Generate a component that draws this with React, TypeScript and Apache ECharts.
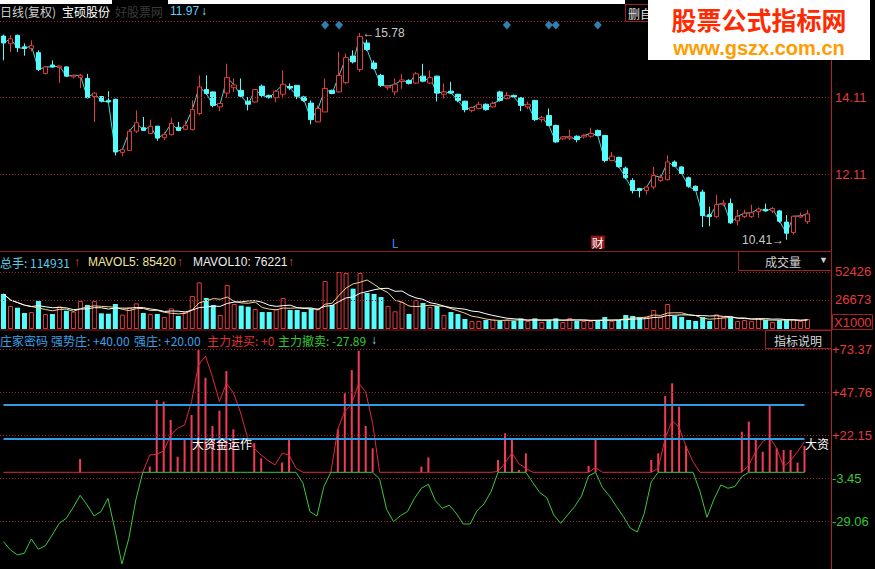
import React, { useEffect, useRef } from "react";
import * as echarts from "echarts";

// ---------- data ----------
const opens = [
  15.70, 15.50, 15.72, 15.42, 15.38, 15.27, 14.73, 14.95, 14.88, 14.90,
  14.64, 14.62, 14.60, 14.13, 14.13, 14.03, 14.06, 12.68, 12.73, 13.23,
  13.32, 13.17, 13.36, 13.06, 13.14, 13.33, 13.28, 13.27, 13.69, 14.31,
  14.25, 13.86, 14.22, 14.36, 14.29, 14.01, 13.99, 14.40, 14.16, 14.10,
  14.19, 14.39, 14.42, 14.12, 13.96, 13.47, 13.73, 14.29, 14.25, 14.49,
  15.18, 14.83, 15.52, 15.00, 14.68, 14.36, 14.25, 14.52, 14.55, 14.48,
  14.66, 14.48, 14.66, 14.19, 14.27, 14.19, 14.01, 13.77, 13.82, 13.93,
  13.86, 14.25, 14.08, 14.16, 14.10, 13.86, 14.03, 13.53, 13.64, 13.38,
  13.03, 13.05, 13.10, 13.08, 13.10, 13.25, 13.12, 12.47, 12.55, 12.27,
  11.95, 11.74, 11.69, 11.78, 11.95, 11.97, 12.43, 12.30, 12.02, 11.80,
  11.65, 11.06, 11.01, 11.32, 11.35, 10.90, 11.01, 11.01, 11.14, 11.20,
  11.16, 11.16, 10.87, 10.60, 11.00, 10.88,
];
const closes = [
  15.52, 15.63, 15.40, 15.38, 15.45, 14.83, 14.90, 14.90, 14.92, 14.66,
  14.68, 14.68, 14.10, 14.22, 14.01, 13.99, 12.69, 12.75, 13.23, 13.45,
  13.25, 13.36, 13.05, 13.15, 13.43, 13.25, 13.38, 13.79, 14.38, 14.21,
  13.90, 13.95, 14.62, 14.43, 14.14, 13.93, 14.31, 14.16, 14.10, 14.27,
  14.45, 14.35, 14.14, 14.03, 13.53, 13.82, 14.34, 14.21, 14.68, 15.14,
  15.03, 15.69, 15.35, 14.86, 14.42, 14.40, 14.45, 14.56, 14.47, 14.72,
  14.53, 14.62, 14.22, 14.25, 14.22, 14.03, 13.79, 13.84, 13.93, 13.79,
  13.95, 14.03, 14.16, 14.12, 13.90, 13.93, 13.53, 13.58, 13.38, 12.95,
  13.08, 13.08, 13.01, 13.12, 13.17, 13.12, 12.47, 12.58, 12.31, 12.02,
  11.69, 11.69, 11.78, 12.08, 12.03, 12.43, 12.32, 12.13, 11.80, 11.69,
  11.04, 11.01, 11.32, 11.36, 10.85, 11.02, 11.10, 11.11, 11.21, 11.16,
  11.22, 10.89, 10.58, 11.02, 11.03, 11.08,
];
const lows = [
  15.07, 15.29, 15.29, 15.19, 15.30, 14.79, 14.70, 14.88, 14.48, 14.64,
  14.60, 14.35, 14.08, 13.47, 13.98, 13.97, 12.60, 12.58, 12.72, 13.18,
  13.24, 13.17, 12.98, 13.00, 13.12, 13.23, 13.27, 13.25, 13.64, 14.18,
  13.85, 13.75, 14.10, 14.25, 14.10, 13.77, 13.96, 14.12, 14.08, 13.98,
  14.08, 14.30, 14.06, 13.99, 13.41, 13.47, 13.73, 14.19, 14.23, 14.45,
  14.99, 14.77, 15.32, 14.83, 14.38, 14.30, 14.16, 14.33, 14.44, 14.46,
  14.50, 14.46, 14.00, 14.08, 14.20, 13.98, 13.72, 13.72, 13.80, 13.76,
  13.84, 14.00, 14.05, 14.10, 13.75, 13.80, 13.49, 13.46, 13.36, 12.93,
  13.00, 13.00, 12.94, 13.04, 13.06, 13.10, 12.42, 12.45, 12.28, 11.98,
  11.61, 11.51, 11.58, 11.72, 11.92, 11.95, 12.30, 12.09, 11.76, 11.68,
  10.74, 10.76, 10.98, 11.28, 10.82, 10.78, 10.97, 10.98, 10.98, 11.14,
  11.10, 10.85, 10.41, 10.55, 10.98, 10.82,
];
const highs = [
  15.74, 15.72, 15.74, 15.51, 15.59, 15.33, 14.92, 15.07, 14.93, 14.91,
  14.70, 14.72, 14.72, 14.24, 14.14, 14.27, 14.07, 12.76, 13.28, 13.77,
  13.60, 13.53, 13.37, 13.20, 13.58, 13.47, 13.51, 14.03, 14.68, 14.68,
  14.26, 13.96, 14.98, 14.60, 14.60, 14.12, 14.33, 14.44, 14.18, 14.30,
  14.81, 14.47, 14.43, 14.15, 14.03, 13.90, 14.60, 14.31, 15.29, 15.25,
  15.33, 15.78, 15.61, 15.07, 14.72, 14.42, 14.60, 14.72, 14.58, 14.77,
  14.98, 14.81, 14.67, 14.47, 14.51, 14.20, 14.02, 13.87, 14.00, 13.95,
  14.00, 14.28, 14.25, 14.18, 14.12, 14.00, 14.04, 13.63, 13.82, 13.40,
  13.10, 13.27, 13.12, 13.15, 13.32, 13.27, 13.13, 12.69, 12.57, 12.31,
  12.01, 11.76, 11.81, 12.30, 12.10, 12.60, 12.47, 12.32, 12.05, 11.82,
  11.71, 11.27, 11.58, 11.45, 11.48, 11.19, 11.19, 11.32, 11.25, 11.35,
  11.26, 11.18, 11.05, 11.04, 11.12, 11.19,
];
const volumes = [
  32200, 21200, 19600, 14700, 15600, 25800, 13800, 13800, 20900, 16900,
  15900, 25800, 22100, 25800, 14400, 14100, 23000, 13200, 19900, 23600,
  14700, 13800, 13800, 11000, 19000, 12000, 15900, 30400, 42900, 28500,
  22100, 12900, 40500, 23000, 21500, 20500, 18400, 15600, 15600, 18100,
  28500, 17500, 17500, 15600, 18400, 18400, 44100, 22100, 52400, 51500,
  37100, 51500, 33100, 32200, 29400, 21200, 16300, 24800, 13800, 26700,
  23900, 20200, 21200, 12900, 15600, 13800, 9200, 7400, 7400, 8300,
  8700, 7400, 8700, 7400, 9800, 7400, 9800, 6400, 8000, 9800,
  6400, 10100, 7400, 7400, 7400, 7400, 11000, 7400, 8300, 12900,
  12000, 11000, 11000, 17500, 11000, 23000, 12000, 11000, 8300, 7400,
  11000, 7400, 13500, 11000, 11000, 7400, 8300, 7400, 10100, 8300,
  6400, 8300, 8300, 9200, 7400, 9200,
];
// 主力 oscillator: above zero = 主力进买 (red), below zero = 主力撤卖 (green)
const mainForce = [
  -41.3, -46.2, -49.2, -48.2, -39.7, -45.8, -43.8, -37.3, -30.4, -27.4,
  -21.0, -13.7, -19.4, -26.0, -23.4, -15.5, -34.3, -54.6, -39.3, -16.5,
  0, 10.3, 10.7, 12.7, 22.2, 26.2, 28.2, 42.1, 63.9, 69.2,
  56.9, 42.1, 53.0, 47.4, 36.1, 21.2, 14.3, 10.3, 6.9, 4.4,
  11.3, 10.3, 2.4, -6.5, -23.4, -26.0, -8.5, 0, 25.6, 36.5,
  40.7, 53.0, 48.0, 29.2, -4.0, -22.0, -29.4, -25.8, -23.4, -15.5,
  -9.5, -7.1, -16.9, -21.4, -19.6, -24.4, -30.8, -30.8, -22.8, -18.8,
  -11.5, 0.5, 5.4, 11.7, 5.0, 2.4, -6.2, -12.1, -15.1, -25.4,
  -30.4, -25.4, -20.4, -14.1, -2.2, 2.8, -9.1, -14.1, -20.4, -26.4,
  -33.3, -35.5, -24.4, -5.6, 2.4, 20.2, 30.8, 26.8, 15.3, 6.3,
  -11.5, -26.8, -16.1, -7.5, -9.5, -8.5, -2.6, 4.4, 12.3, 18.3,
  20.8, 14.3, 3.4, 6.9, 12.3, 18.3,
];
// 强庄 sticks: [day index, height]
const sticks = [
  [11, 7.9], [21, 3.4], [22, 43.1], [23, 42.1], [24, 31.2], [25, 9.3], [26, 19.8],
  [27, 34.1], [28, 72.8], [29, 56.3], [30, 27.6], [31, 36.7], [32, 60.3], [33, 25.6],
  [36, 17.3], [37, 8.3], [40, 5.8], [41, 19.2], [48, 25.6], [49, 47.0], [50, 60.9],
  [51, 72.4], [52, 27.6], [53, 14.3], [60, 3.4], [61, 8.9], [71, 7.3], [72, 23.2],
  [73, 19.2], [74, 1.4], [75, 11.3], [84, 3.8], [85, 19.6], [93, 7.3], [94, 11.3],
  [95, 45.4], [96, 53.0], [97, 39.1], [98, 15.7], [106, 24.2], [107, 30.2], [108, 19.8],
  [109, 12.3], [110, 39.7], [111, 14.3], [112, 13.3], [113, 13.3], [114, 5.8], [115, 15.7],
];
const eventDays = [46, 48, 72, 78, 79, 85];
const dayMarks = [{ day: 56, text: "L" }, { day: 85, text: "财" }];
const textMarks = [{ day: 27, text: "大资金运作" }, { day: 115, text: "大资" }];
const priceTicks = [12.11, 14.11];
const volumeTicks = [26673, 52426];
const indicatorTicks = [73.37, 47.76, 22.15, -3.45, -29.06];
const strongLevels = [40, 20];
const slotCount = 119;

// ---------- styling ----------
const RED = "#e23c3c";
const GREEN = "#34c834";
const CYAN = "#54fcfc";
const GRIDRED = "#9a2222";
const NUMFONT = '"Liberation Sans", "Noto Sans CJK SC", sans-serif';
const CJKFONT = '"Noto Sans CJK SC", "Liberation Sans", sans-serif';

function movingAverage(values: number[], n: number) {
  return values.map((_, i) => {
    const s = Math.max(0, i - n + 1);
    let sum = 0;
    for (let j = s; j <= i; j++) sum += values[j];
    return Math.round(sum / (i - s + 1));
  });
}

function txt(x: number, y: number, text: string, fill: string, extra: any = {}) {
  return {
    type: "text",
    x,
    y,
    z: 50,
    style: {
      text,
      fill,
      font: `12px ${CJKFONT}`,
      textAlign: "left",
      textVerticalAlign: "middle",
      ...extra,
    },
  };
}

function buildOption() {
  const cats = Array.from({ length: slotCount }, (_, i) => String(i + 1));
  const candleData = opens.map((o, i) => [o, closes[i], lows[i], highs[i]]);
  const volData = volumes.map((v, i) => ({
    value: v,
    itemStyle:
      closes[i] >= opens[i]
        ? { color: "#000", borderColor: RED, borderWidth: 1 }
        : { color: CYAN, borderColor: CYAN, borderWidth: 0 },
  }));
  const ma5 = movingAverage(volumes, 5);
  const ma10 = movingAverage(volumes, 10);
  const buyLine = mainForce.map((v) => Math.max(0, v));
  const sellLine = mainForce.map((v) => Math.min(0, v));
  const maxHigh = Math.max(...highs);
  const minLow = Math.min(...lows);
  const hiIdx = highs.indexOf(maxHigh);
  const loIdx = lows.indexOf(minLow);
  const lastIdx = mainForce.length - 1;
  const topLevel = 15.99;
  const bottomLevel = 10.35;
  const textLevel = 17.4;

  const dotted = { color: GRIDRED, type: [1, 2] as any, width: 1 };
  const gridLine = (vals: number[]) => ({
    silent: true,
    symbol: ["none", "none"],
    label: { show: false },
    lineStyle: dotted,
    emphasis: { disabled: true },
    data: vals.map((v) => ({ yAxis: v })),
  });

  const xAxes = [0, 1, 2].map((g) => ({
    type: "category",
    gridIndex: g,
    data: cats,
    show: false,
    boundaryGap: true,
  }));

  const yBase = {
    type: "value",
    position: "right",
    splitLine: { show: false },
    axisLine: { show: false },
    axisTick: { show: false },
  };

  return {
    animation: false,
    backgroundColor: "#000",
    grid: [
      { left: 0, width: 832, top: 21, height: 229 },
      { left: 0, width: 832, top: 252, height: 77 },
      { left: 0, width: 832, top: 331, height: 238 },
    ],
    xAxis: xAxes,
    yAxis: [
      {
        ...yBase,
        gridIndex: 0,
        min: 10.144,
        max: 16.092,
        axisLabel: {
          customValues: priceTicks,
          formatter: (v: number) => Number(v).toFixed(2),
          color: RED,
          fontSize: 13,
          fontFamily: NUMFONT,
          margin: 3,
        },
      },
      {
        ...yBase,
        gridIndex: 1,
        min: 0,
        max: 70820,
        axisLabel: {
          customValues: volumeTicks,
          formatter: (v: number) => String(Math.round(Number(v))),
          color: RED,
          fontSize: 13,
          fontFamily: NUMFONT,
          margin: 3,
        },
      },
      {
        ...yBase,
        gridIndex: 2,
        min: -57.59,
        max: 84.16,
        axisLabel: {
          customValues: indicatorTicks,
          formatter: (v: number) => (Number(v) > 0 ? "+" : "") + Number(v).toFixed(2),
          color: (v: any) => (Number(v) >= 0 ? RED : GREEN),
          fontSize: 13,
          fontFamily: NUMFONT,
          margin: 3,
        },
      },
    ],
    series: [
      {
        type: "line",
        xAxisIndex: 0,
        yAxisIndex: 0,
        data: closes,
        symbol: "none",
        lineStyle: { color: "#4fd4d4", width: 1 },
        z: 1,
        silent: true,
      },
      {
        type: "candlestick",
        xAxisIndex: 0,
        yAxisIndex: 0,
        data: candleData,
        barWidth: 5,
        z: 2,
        itemStyle: {
          color: "#000",
          color0: CYAN,
          borderColor: RED,
          borderColor0: CYAN,
          borderWidth: 1,
        },
        markLine: gridLine(priceTicks),
        markPoint: {
          silent: true,
          symbol: "circle",
          symbolSize: 1,
          itemStyle: { color: "transparent" },
          data: [
            {
              coord: [hiIdx, maxHigh],
              label: {
                show: true,
                position: "right",
                distance: 2,
                formatter: "←" + maxHigh.toFixed(2),
                color: "#c8c8c8",
                fontSize: 12,
                fontFamily: NUMFONT,
              },
            },
            {
              coord: [loIdx, minLow],
              label: {
                show: true,
                position: "left",
                distance: 2,
                formatter: minLow.toFixed(2) + "→",
                color: "#c8c8c8",
                fontSize: 12,
                fontFamily: NUMFONT,
              },
            },
            ...dayMarks.map((m) => ({
              coord: [m.day, bottomLevel],
              label: {
                show: true,
                position: "inside",
                formatter: m.text,
                color: m.text === "L" ? "#3a8cff" : "#ffffff",
                backgroundColor: m.text === "L" ? "transparent" : "#8e1616",
                padding: [1, 1, 0, 1],
                fontSize: 12,
                fontFamily: CJKFONT,
              },
            })),
          ],
        },
      },
      {
        type: "scatter",
        xAxisIndex: 0,
        yAxisIndex: 0,
        data: eventDays.map((d) => [d, topLevel]),
        symbol: "diamond",
        symbolSize: [8, 9],
        itemStyle: { color: "#3c9fd8" },
        silent: true,
        z: 3,
      },
      {
        type: "bar",
        xAxisIndex: 1,
        yAxisIndex: 1,
        data: volData,
        barWidth: 5,
        markLine: gridLine(volumeTicks),
        silent: true,
      },
      {
        type: "line",
        xAxisIndex: 1,
        yAxisIndex: 1,
        data: ma5,
        symbol: "none",
        lineStyle: { color: "#f0d48a", width: 1 },
        silent: true,
        z: 4,
      },
      {
        type: "line",
        xAxisIndex: 1,
        yAxisIndex: 1,
        data: ma10,
        symbol: "none",
        lineStyle: { color: "#ffffff", width: 1 },
        silent: true,
        z: 4,
      },
      {
        type: "bar",
        xAxisIndex: 2,
        yAxisIndex: 2,
        data: sticks,
        barWidth: 2,
        itemStyle: { color: "#f23c55" },
        silent: true,
        z: 3,
        markLine: {
          silent: true,
          symbol: ["none", "none"],
          label: { show: false },
          lineStyle: { color: "#2e9be6", width: 2, type: "solid" },
          data: strongLevels.map((v) => [{ coord: [0, v] }, { coord: [lastIdx, v] }]),
        },
      },
      {
        type: "line",
        xAxisIndex: 2,
        yAxisIndex: 2,
        data: buyLine,
        symbol: "none",
        lineStyle: { color: "#e0283c", width: 1 },
        silent: true,
        z: 4,
        markLine: gridLine(indicatorTicks),
        markPoint: {
          silent: true,
          symbol: "circle",
          symbolSize: 1,
          itemStyle: { color: "transparent" },
          data: textMarks.map((m) => ({
            coord: [m.day, textLevel],
            label: {
              show: true,
              position: "right",
              distance: 0,
              formatter: m.text,
              color: "#ffffff",
              fontSize: 12,
              fontFamily: CJKFONT,
            },
          })),
        },
      },
      {
        type: "line",
        xAxisIndex: 2,
        yAxisIndex: 2,
        data: sellLine,
        symbol: "none",
        lineStyle: { color: "#3cc83c", width: 1 },
        silent: true,
        z: 5,
      },
    ],
    graphic: [
      // top white band & watermark box
      { type: "rect", shape: { x: 0, y: 0, width: 625, height: 4 }, style: { fill: "#ffffff" }, z: 40 },
      { type: "rect", shape: { x: 112, y: 0, width: 56, height: 17 }, style: { fill: "#000" }, z: 41 },
      // top dotted border of price panel
      {
        type: "line",
        shape: { x1: 0, y1: 21.5, x2: 832, y2: 21.5 },
        style: { stroke: GRIDRED, lineWidth: 1, lineDash: [1, 2] },
        z: 40,
      },
      // panel separators
      { type: "line", shape: { x1: 0, y1: 251.5, x2: 832, y2: 251.5 }, style: { stroke: "#8a1c1c", lineWidth: 1 }, z: 40 },
      { type: "line", shape: { x1: 0, y1: 330, x2: 832, y2: 330 }, style: { stroke: "#8a1c1c", lineWidth: 1 }, z: 40 },
      // right axis line
      { type: "line", shape: { x1: 831.5, y1: 0, x2: 831.5, y2: 569 }, style: { stroke: "#b02424", lineWidth: 1 }, z: 40 },
      // header
      txt(0, 11, "日线(复权)", "#cfcfcf"),
      txt(62, 11, "宝硕股份", "#ffffff"),
      txt(115, 11, "好股票网", "#3a3a3a"),
      txt(170, 11, "11.97", "#5fcff0", { font: `12px ${NUMFONT}` }),
      txt(201, 11, "↓", "#9fe8ff", { font: `bold 12px ${NUMFONT}` }),
      // 删自 box
      {
        type: "rect",
        shape: { x: 625.5, y: 4.5, width: 40, height: 17 },
        style: { fill: "#000", stroke: "#a02020", lineWidth: 1 },
        z: 45,
      },
      txt(628, 13, "删自", "#e0e0e0", { z: 46 }),
      // logo
      { type: "rect", shape: { x: 648, y: 0, width: 222, height: 60 }, style: { fill: "#ffffff" }, z: 60 },
      {
        type: "text",
        x: 759,
        y: 19,
        z: 61,
        style: {
          text: "股票公式指标网",
          fill: "#ff2a00",
          font: `bold 25px ${CJKFONT}`,
          textAlign: "center",
          textVerticalAlign: "middle",
        },
      },
      {
        type: "text",
        x: 759,
        y: 48,
        z: 61,
        style: {
          text: "www.gszx.com.cn",
          fill: "#ff9c00",
          font: `bold 20px ${NUMFONT}`,
          textAlign: "center",
          textVerticalAlign: "middle",
        },
      },
      // volume header
      txt(0, 262, "总手: 114931", "#58cde6"),
      txt(74, 262, "↑", RED, { font: `bold 12px ${NUMFONT}` }),
      txt(88, 262, "MAVOL5: 85420", "#f0e4a0", { font: `12px ${NUMFONT}` }),
      txt(177, 262, "↑", RED, { font: `bold 12px ${NUMFONT}` }),
      txt(193, 262, "MAVOL10: 76221", "#eeeeee", { font: `12px ${NUMFONT}` }),
      txt(288, 262, "↑", RED, { font: `bold 12px ${NUMFONT}` }),
      // 成交量 box
      {
        type: "rect",
        shape: { x: 738.5, y: 251.5, width: 93, height: 19 },
        style: { fill: "#000", stroke: "#a02020", lineWidth: 1 },
        z: 45,
      },
      txt(765, 261, "成交量", "#cfcfcf", { z: 46 }),
      txt(819, 260, "▼", "#cfcfcf", { z: 46, font: `9px ${NUMFONT}` }),
      // X1000
      {
        type: "rect",
        shape: { x: 832.5, y: 314.5, width: 40, height: 15 },
        style: { fill: "transparent", stroke: "#a02020", lineWidth: 1 },
        z: 45,
      },
      txt(834, 322, "X1000", RED, { z: 46, font: `13px ${NUMFONT}` }),
      // 指标说明 box
      {
        type: "rect",
        shape: { x: 765.5, y: 330.5, width: 66, height: 18 },
        style: { fill: "#000", stroke: "#a02020", lineWidth: 1 },
        z: 45,
      },
      txt(774, 340, "指标说明", "#d8d8d8", { z: 46 }),
      // indicator header
      txt(0, 340, "庄家密码", "#3ca0e6"),
      txt(51, 340, "强势庄: +40.00", "#3ca0e6"),
      txt(134, 340, "强庄: +20.00", "#3ca0e6"),
      txt(207, 340, "主力进买: +0", "#e03232"),
      txt(278, 340, "主力撤卖: -27.89", "#34c834"),
      txt(371, 340, "↓", "#7fe0ff", { font: `bold 12px ${NUMFONT}` }),
    ],
  };
}

export default function App() {
  const ref = useRef<HTMLDivElement>(null);
  useEffect(() => {
    if (!ref.current) return;
    const chart = echarts.init(ref.current, null, { renderer: "svg" });
    chart.setOption(buildOption() as any);
    return () => chart.dispose();
  }, []);
  return (
    <div style={{ position: "fixed", left: 0, top: 0, width: 875, height: 569, background: "#000" }}>
      <div ref={ref} style={{ width: 875, height: 569 }} />
    </div>
  );
}
